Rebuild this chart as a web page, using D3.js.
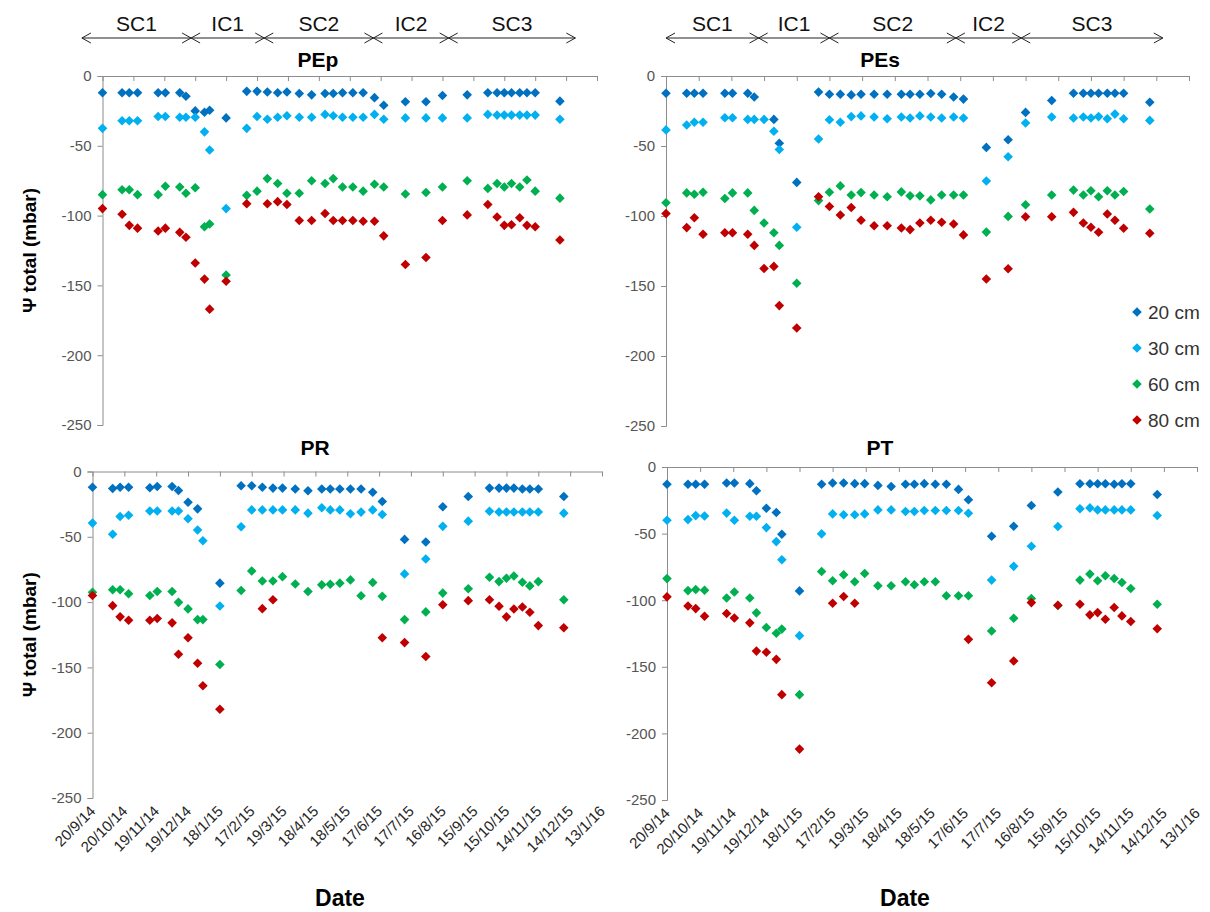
<!DOCTYPE html>
<html><head><meta charset="utf-8">
<script src="https://cdn.jsdelivr.net/npm/d3@7"></script>
<style>body{margin:0;background:#fff} svg{font-family:Arial,"Liberation Sans",sans-serif}</style>
</head><body><svg id="c" width="1210" height="912"></svg>
<script>
// ---------- data ----------
const dates = ["2014-09-20","2014-10-09","2014-10-16","2014-10-24","2014-11-13","2014-11-20","2014-12-04","2014-12-10","2014-12-19","2014-12-28","2015-01-02","2015-01-18","2015-02-07","2015-02-17","2015-02-27","2015-03-09","2015-03-18","2015-03-30","2015-04-11","2015-04-24","2015-05-02","2015-05-11","2015-05-21","2015-05-31","2015-06-11","2015-06-20","2015-07-11","2015-07-31","2015-08-16","2015-09-09","2015-09-29","2015-10-08","2015-10-15","2015-10-22","2015-10-30","2015-11-06","2015-11-14","2015-12-08"];
const depths = ["20 cm","30 cm","60 cm","80 cm"];
const tickLabels = ["20/9/14","20/10/14","19/11/14","19/12/14","18/1/15","17/2/15","19/3/15","18/4/15","18/5/15","17/6/15","17/7/15","16/8/15","15/9/15","15/10/15","14/11/15","14/12/15","13/1/16"];
const yTicks = [0,-50,-100,-150,-200,-250];

const pep20 = [-12,-12,-12,-12,-12,-12,-12,-14.5,-25,-26,-24.5,-30,-11,-11,-11.5,-12,-11.5,-12.5,-13.5,-12.5,-12.5,-12,-12,-12,-15.5,-21,-18.5,-18.5,-14,-13.5,-12,-12,-12,-12,-12,-12,-12,-18];
const pep30 = [-37.5,-32,-32,-32,-29,-29,-29.5,-29.5,-29.5,-40,-53,-95,-37.5,-29,-31,-29.5,-28.5,-29.5,-29.5,-27.5,-28.5,-29.5,-29.5,-29.5,-27.5,-31,-30,-30,-30,-30,-27.5,-28,-28,-28,-28,-28,-28,-31];
const pep60 = [-85,-81.5,-81.5,-85,-85,-79,-79.5,-84,-80,-108,-106,-142.5,-85.5,-82.5,-73.5,-77,-84,-84,-75,-77,-73.5,-79.5,-79.5,-82.5,-77.5,-79.5,-84.5,-83.5,-79.5,-75,-80.5,-77,-79.5,-77,-79.5,-74.5,-82.5,-87.5];
const pep80 = [-95,-99,-107,-109,-111,-109,-112,-115.5,-134,-145.5,-167,-147,-91.5,null,-91.5,-90,-92,-103.5,-103.5,-98.5,-103.5,-103.5,-103.5,-104,-104,-114.5,-135,-130,-103.5,-99.5,-92,-101,-107,-106.5,-101.5,-107,-108,-117.5];

const pes20 = [-12.3,-12.3,-12.3,-12.3,-12.3,-12.3,-12.3,-15,null,-31,-48,-76,-11.5,-13,-13,-13.5,-13,-13,-13,-13,-13,-13,-12.5,-13,-15,-16.5,-51,-45.5,-26,-17.5,-12.3,-12.3,-12.3,-12.3,-12.3,-12.3,-12.3,-18.7];
const pes30 = [-38.5,-35,-33,-33,-29.8,-29.8,-31,-31,-31,-39.5,-52.5,-108,-45,-31.2,-33,-29,-28.5,-29.3,-30.5,-29.3,-30,-28.5,-29.3,-30,-29.3,-30,-75,-57.7,-33.6,-29.3,-30,-29.3,-30,-29,-30.5,-27.2,-30.5,-31.7];
const pes60 = [-90.5,-83.5,-84.5,-83,-87.5,-83.5,-83.5,-96,-105,-112,-121,-148,-89,-83,-78.5,-85,-83.3,-85,-86.3,-82.8,-85.6,-85.6,-88.5,-85,-85,-85,-111.5,-100.3,-92,-85,-81.5,-85,-82,-86.3,-82,-85,-82.5,-95];
const pes80 = [-98.3,-108.3,-101.2,-113,-112,-112,-113,-121,-137.5,-136,-164,-180,-86.3,-93.2,-99.3,-93.9,-103,-107,-107,-108.6,-109.7,-105,-103,-104.5,-105.7,-113.5,-145,-137.7,-100.5,-100.5,-97.4,-105,-108,-111.6,-98.6,-103,-108.8,-112.3];

const pr20 = [-12,-13,-12,-12,-12.5,-11.5,-11.5,-14.5,-23.5,-28.6,null,-85.5,-10.9,-10.9,-12,-12.7,-12.7,-13.4,-14.7,-13.4,-13.4,-13.4,-13.4,-13.4,-15.9,-23,-52,-54,-27,-19.2,-12.7,-12.7,-12.7,-12.7,-13.4,-13.4,-13.4,-19.2];
const pr30 = [-39.5,-48,-34.4,-33.5,-30.3,-30.3,-30.3,-30.3,-36.2,-44.8,-53,-103,-42.3,-29.4,-29.4,-29.4,-29.4,-29.4,-31.9,-27.8,-29.4,-29.4,-32.4,-31.1,-29.4,-32.9,-78.4,-67,-42,-38,-30.4,-31,-31,-31,-31,-31,-31,-31.9];
const pr60 = [-92.5,-90.6,-90.6,-93.6,-94.9,-91.9,-91.9,-100.2,-105.2,-113.4,-113.4,-147.8,-91.1,-76.2,-83.8,-83.8,-80.5,-86.1,-91.9,-86.8,-86.3,-85.5,-83,-95.1,-85,-95.6,-113.4,-107.5,-93.1,-89.8,-81,-84.3,-81.7,-80,-84.8,-87.6,-84.3,-98.2];
const pr80 = [-95,-102.7,-111.3,-113.9,-113.9,-112.6,-115.9,-139.9,-127.3,-146.8,-164,-182,null,null,-105,-98.2,null,null,null,null,null,null,null,null,null,-127.3,-131,-141.7,-102,-98.9,-98.2,-103.2,-111.3,-105.3,-103.7,-107.8,-118,-119.7];

const pt20 = [-13,-13,-13,-13,-12,-12,-12.5,-17.8,-31,-34.2,-50.5,-93,-13,-12,-12,-12.5,-12.5,-13.8,-14.6,-13,-13,-12.5,-13,-13,-16.8,-24.6,-52,-44.5,-28.9,-18.8,-12.6,-12.6,-12.6,-12.6,-13,-12.6,-12.6,-20.6];
const pt30 = [-40,-39.5,-36.5,-36.8,-34.6,-40,-37,-37,-45.5,-56,-69.6,-126.6,-50.2,-35.2,-35.9,-35.9,-35.2,-32.2,-32.2,-33.4,-33.4,-32.7,-32.7,-32.7,-32.7,-34.7,-84.9,-74.6,-59.5,-44.7,-31.4,-30.7,-32.2,-32.2,-32.2,-32.2,-32.2,-36.4];
const pt60 = [-83.8,-92.8,-92,-92.5,-98.3,-93.8,-98.3,-109.5,-120.5,-124.8,-121.7,-170.9,-78.4,-85.4,-80.9,-86.2,-79.9,-89.2,-89.2,-86.2,-88.4,-86.2,-86.2,-96.7,-96.7,-96.7,-123.1,-113.6,-98.7,-104,-84.9,-80.4,-85.4,-81.7,-83.7,-86.7,-91.2,-103];
const pt80 = [-97.5,-104.3,-106.3,-112,-110,-113.4,-117,-138.2,-139.1,-144.4,-170.9,-211.8,null,-102.3,-97.2,-102.3,null,null,null,null,null,null,null,null,null,-129.4,-162,-145.7,-101.8,-103.8,-103,-111,-109.3,-114.3,-105.5,-111.8,-116,-121.4];

const phases = ["SC1","IC1","SC2","IC2","SC3"];
const phaseBoundsPEp = ["2014-08-31","2014-12-15","2015-02-24","2015-06-10","2015-08-22","2015-12-23"];
const phaseBoundsPEs = ["2014-09-20","2014-12-14","2015-02-17","2015-06-13","2015-08-12","2015-12-20"];

// ---------- layout / style ----------
const colors = ["#0070C0","#00B0F0","#00B050","#C00000"];
const parseISO = d3.timeParse("%Y-%m-%d");
const parseTick = d3.timeParse("%d/%m/%y");
const dateObjs = dates.map(parseISO);
const tickDates = tickLabels.map(parseTick);

const panels = [
  {title:"PEp", series:[pep20,pep30,pep60,pep80], x0:102.5, x1:597, yT:76, yB:425, titleX:318, titleY:67, labels:false, ytitle:true, phases:phaseBoundsPEp},
  {title:"PEs", series:[pes20,pes30,pes60,pes80], x0:666, x1:1189, yT:76, yB:426, titleX:880, titleY:67, labels:false, ytitle:false, phases:phaseBoundsPEs, legend:true},
  {title:"PR",  series:[pr20,pr30,pr60,pr80], x0:92.5, x1:602, yT:471.5, yB:798, titleX:315, titleY:455, labels:true, ytitle:true, dateX:340},
  {title:"PT",  series:[pt20,pt30,pt60,pt80], x0:667, x1:1197, yT:467, yB:800, titleX:880, titleY:455, labels:true, ytitle:false, dateX:905}
];

const svg = d3.select("#c");
const axisColor = "#8c8c8c";
const diamond = d3.symbol().type(d3.symbolSquare).size(46);

panels.forEach(p => {
  const x = d3.scaleTime().domain([tickDates[0], tickDates[tickDates.length-1]]).range([p.x0, p.x1]);
  const y = d3.scaleLinear().domain([-250, 0]).range([p.yB, p.yT]);
  const g = svg.append("g");

  // y axis
  const ya = g.append("g").attr("transform", `translate(${p.x0},0)`)
    .call(d3.axisLeft(y).tickValues(yTicks).tickSize(5).tickPadding(6).tickFormat(d => String(d)));
  ya.select(".domain").attr("stroke", axisColor);
  ya.selectAll(".tick line").attr("stroke", axisColor);
  ya.selectAll(".tick text").attr("fill", "#555").attr("font-size", 15).attr("font-family","Arial,'Liberation Sans',sans-serif");

  // x axis at y = 0
  const xa = g.append("g").attr("transform", `translate(0,${y(0)})`)
    .call(d3.axisBottom(x).tickValues(tickDates).tickSize(5).tickSizeOuter(0).tickFormat(""));
  xa.select(".domain").attr("stroke", axisColor);
  xa.selectAll(".tick line").attr("stroke", axisColor);

  if (p.labels) {
    g.append("g").selectAll("text").data(tickDates).join("text")
      .attr("transform", (d,i) => `translate(${x(d)+4},${y(-250)+14}) rotate(-45)`)
      .attr("text-anchor","end").attr("font-size",15).attr("fill","#262626")
      .text((d,i) => tickLabels[i]);
    g.append("text").attr("x", p.dateX).attr("y", 906)
      .attr("text-anchor","middle").attr("font-size",23).attr("font-weight","bold").text("Date");
  }
  if (p.ytitle) {
    g.append("text").attr("transform", `translate(36,${(p.yT+p.yB)/2}) rotate(-90)`)
      .attr("text-anchor","middle").attr("font-size",19).attr("font-weight","bold").text("Ψ total (mbar)");
  }

  // title
  g.append("text").attr("x", p.titleX).attr("y", p.titleY).attr("text-anchor","middle")
    .attr("font-size",21).attr("font-weight","bold").text(p.title);

  // points
  p.series.forEach((vals, si) => {
    const pts = vals.map((v,i) => ({d:dateObjs[i], v})).filter(o => o.v !== null);
    g.append("g").selectAll("path").data(pts).join("path")
      .attr("d", diamond)
      .attr("transform", o => `translate(${x(o.d)},${y(o.v)}) rotate(45)`)
      .attr("fill", colors[si]);
  });

  // phase arrows
  if (p.phases) {
    const ay = 38;
    const ag = g.append("g").attr("stroke","#222").attr("fill","none").attr("stroke-width",1);
    phases.forEach((ph, i) => {
      const a = x(parseISO(p.phases[i])), b = x(parseISO(p.phases[i+1]));
      ag.append("line").attr("x1",a).attr("x2",b).attr("y1",ay).attr("y2",ay);
      ag.append("path").attr("d", `M${a+9},${ay-5}L${a},${ay}L${a+9},${ay+5}`);
      ag.append("path").attr("d", `M${b-9},${ay-5}L${b},${ay}L${b-9},${ay+5}`);
      g.append("text").attr("x",(a+b)/2).attr("y",31).attr("text-anchor","middle")
        .attr("font-size",21).attr("fill","#111").text(ph);
    });
  }

  // legend
  if (p.legend) {
    depths.forEach((dp, i) => {
      const ly = 312 + i*36;
      g.append("path").attr("d", diamond).attr("transform", `translate(1137,${ly}) rotate(45)`).attr("fill", colors[i]);
      g.append("text").attr("x",1148).attr("y",ly+7).attr("font-size",19).attr("fill","#333").text(dp);
    });
  }
});
</script></body></html>
